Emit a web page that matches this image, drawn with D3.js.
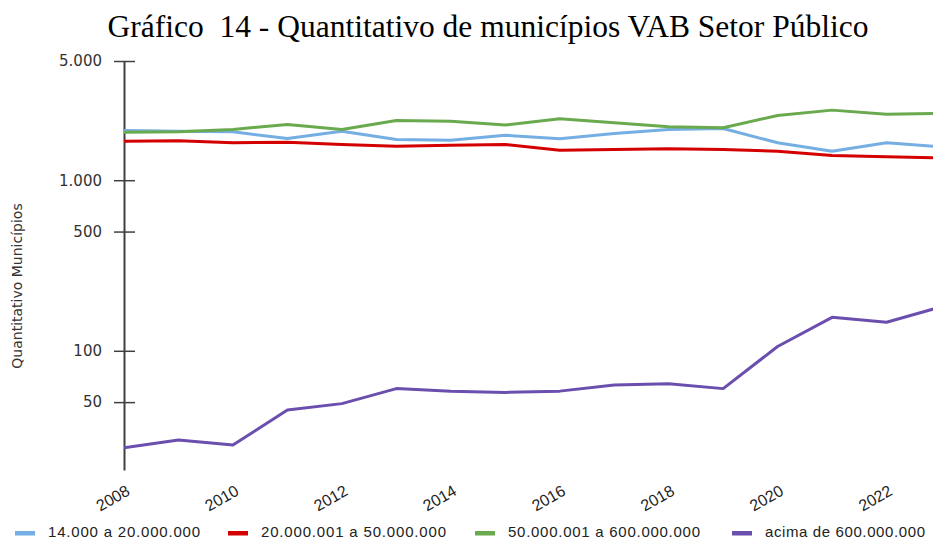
<!DOCTYPE html>
<html>
<head>
<meta charset="utf-8">
<script src="https://cdn.jsdelivr.net/npm/d3@7/dist/d3.min.js"></script>
<style>
  body { margin: 0; background: #fff; }
  svg { display: block; }
</style>
</head>
<body>
<div id="chart"></div>
<script>
var years = [2008, 2009, 2010, 2011, 2012, 2013, 2014, 2015, 2016, 2017, 2018, 2019, 2020, 2021, 2022, 2023];
var yearLabels = [2008, 2010, 2012, 2014, 2016, 2018, 2020, 2022];
var yTicks = [50, 100, 500, 1000, 5000];

var faixa1 = [1958, 1939, 1922, 1756, 1939, 1732, 1716, 1836, 1750, 1879, 1984, 2011, 1658, 1479, 1658, 1568];
var faixa2 = [1694, 1702, 1658, 1671, 1620, 1583, 1604, 1620, 1500, 1514, 1529, 1514, 1479, 1396, 1372, 1350];
var faixa3 = [1912, 1922, 1984, 2122, 1984, 2240, 2220, 2108, 2293, 2172, 2058, 2030, 2398, 2576, 2440, 2464];
var faixa4 = [27, 30, 28, 45, 49, 60, 58, 57, 58, 63, 64, 60, 106, 157, 147, 181];

var seriesNames = ['14.000 a 20.000.000', '20.000.001 a 50.000.000', '50.000.001 a 600.000.000', 'acima de 600.000.000'];
var seriesColors = ['#74aee2', '#d40000', '#6aaa4f', '#6a4fae'];

(function() {
  var width = 933, height = 539;
  var svg, x, y, yAxis, line, series, ptBR, fmt, legend, legendX, legendW;

  svg = d3.select('#chart').append('svg')
    .attr('width', width).attr('height', height)
    .attr('viewBox', '0 0 ' + width + ' ' + height);

  ptBR = d3.formatLocale({ decimal: ',', thousands: '.', grouping: [3], currency: ['R$', ''] });
  fmt = ptBR.format(',d');

  x = d3.scaleLinear().domain([2008, 2023]).range([124, 941]);
  y = d3.scaleLog().domain([20, 5000]).range([470, 61]);

  // title (keeps the double space)
  svg.append('text')
    .attr('x', 488).attr('y', 37)
    .attr('text-anchor', 'middle')
    .attr('font-family', 'Liberation Serif, Times New Roman, serif')
    .attr('font-size', 31.5)
    .attr('fill', '#000')
    .style('white-space', 'pre')
    .text('Gráfico  14 - Quantitativo de municípios VAB Setor Público');

  // y axis label
  svg.append('text')
    .attr('transform', 'translate(22,286) rotate(-90)')
    .attr('text-anchor', 'middle')
    .attr('font-family', 'DejaVu Sans, sans-serif')
    .attr('font-size', 14)
    .attr('fill', '#333')
    .text('Quantitativo Municípios');

  // y axis, ticks cross the line
  yAxis = svg.append('g')
    .attr('transform', 'translate(124,0)')
    .call(d3.axisLeft(y).tickValues(yTicks).tickFormat(fmt).tickSize(10).tickSizeOuter(0).tickPadding(12));
  yAxis.select('.domain').attr('stroke', '#404040').attr('stroke-width', 2);
  yAxis.selectAll('.tick line').attr('stroke', '#404040').attr('stroke-width', 1.5);
  yAxis.selectAll('.tick').append('line')
    .attr('x1', 0).attr('x2', 11)
    .attr('stroke', '#404040').attr('stroke-width', 1.5);
  yAxis.selectAll('.tick text')
    .attr('font-family', 'DejaVu Sans, sans-serif')
    .attr('font-size', 15)
    .attr('fill', '#333');

  // x labels, rotated
  svg.append('g').selectAll('text').data(yearLabels).enter().append('text')
    .attr('transform', function(d) {
      return 'translate(' + (x(d) + 7) + ',494) rotate(-30)';
    })
    .attr('text-anchor', 'end')
    .attr('font-family', 'Liberation Sans, Arial, sans-serif')
    .attr('font-size', 16)
    .attr('fill', '#222')
    .text(function(d) { return d; });

  // lines
  line = d3.line()
    .x(function(d, i) { return x(years[i]); })
    .y(function(d) { return y(d); });

  series = [faixa1, faixa2, faixa3, faixa4];
  svg.append('defs').append('clipPath').attr('id', 'plot')
    .append('rect').attr('x', 124).attr('y', 40).attr('width', width - 124).attr('height', 440);
  svg.append('g').attr('clip-path', 'url(#plot)')
    .selectAll('path').data(series).enter().append('path')
    .attr('d', line)
    .attr('fill', 'none')
    .attr('stroke', function(d, i) { return seriesColors[i]; })
    .attr('stroke-width', 3)
    .attr('stroke-linejoin', 'round');

  // legend, spread like the original
  legendX = [15, 228, 475, 732];
  legendW = [152, 185, 192, 160];
  legend = svg.append('g');
  seriesNames.forEach(function(name, i) {
    legend.append('rect')
      .attr('x', legendX[i]).attr('y', 531)
      .attr('width', 20).attr('height', 4.5)
      .attr('fill', seriesColors[i]);
    legend.append('text')
      .attr('x', legendX[i] + 33).attr('y', 536.5)
      .attr('font-family', 'Liberation Sans, Arial, sans-serif')
      .attr('font-size', 15)
      .attr('textLength', legendW[i])
      .attr('lengthAdjust', 'spacing')
      .attr('fill', '#222')
      .text(name);
  });
})();
</script>
</body>
</html>
